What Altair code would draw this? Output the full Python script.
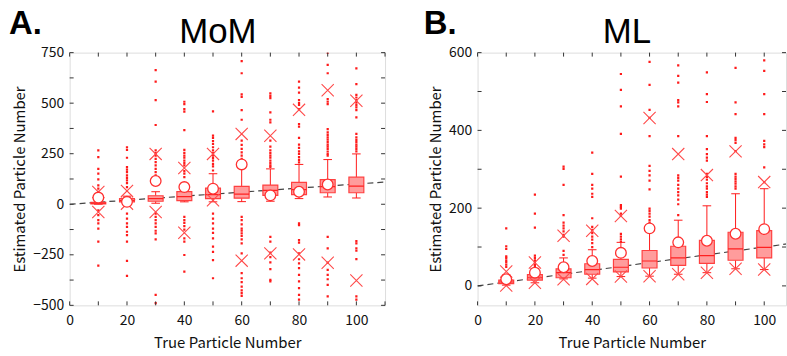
import altair as alt
import pandas as pd

# ---------------- data ----------------
true_n = [10, 20, 30, 40, 50, 60, 70, 80, 90, 100]

# Panel A (MoM)
A_q1 = [2, 12, 15, 18, 28, 30, 44, 48, 57, 57]
A_med = [6, 18, 28, 38, 48, 50, 69, 72, 87, 90]
A_q3 = [10, 28, 42, 62, 80, 88, 95, 108, 122, 134]
A_wlo = [0, 5, 5, 12, 12, 13, 15, 28, 36, 31]
A_whi = [20, 40, 62, 80, 151, 184, 175, 197, 221, 249]
A_mean = [33, 12, 115, 85, 77, 197, 44, 62, 98, None]
A_xhi = [61, 66, 249, 179, 249, 348, 339, 467, 564, 512]
A_xlo = [-38, 3, -38, -141, 20, -279, -243, -248, -289, -377]
A_out = [
    [266, 233, 175, 151, 123, 93, 77, 61, 49, -30, -54, -79, -95, -120, -185, -303],
    [282, 269, 230, 184, 171, 159, 143, 131, 118, 105, 85, -46, -71, -95, -112, -136, -153, -185, -280, -354],
    [663, 607, 515, 392, 266, 253, 241, 225, 208, 192, 175, 159, 143, 131, 118, -46, -62, -79, -95, -112, -131, -144, -174, -448, -489],
    [507, 495, 471, 458, 367, 269, 254, 241, 230, 216, 203, 192, 164, 151, 134, -62, -79, -92, -108, -125, -169, -185, -251, -333],
    [459, 339, 328, 312, 298, 282, 266, 253, 241, 228, 216, 200, 187, 167, -46, -71, -95, -120, -141, -169, -210, -235, -276, -366],
    [708, 648, 544, 531, 466, 418, 315, 294, 274, 257, 241, 225, 213, 200, -62, -79, -100, -120, -131, -144, -157, -174, -194, -243, -341, -366, -385, -407, -426, -440, -453],
    [549, 536, 525, 454, 418, 405, 315, 285, 266, 253, 241, 230, 216, 203, 192, 185, -161, -185, -239, -262, -287, -321, -374, -382],
    [607, 577, 552, 515, 500, 492, 471, 397, 384, 328, 295, 279, 262, 249, 233, 220, 207, -95, -103, -177, -190, -243, -272, -292, -316, -349, -382, -415, -448, -472],
    [750, 689, 648, 520, 507, 495, 372, 356, 343, 331, 320, 307, 295, 285, 274, 261, 249, 241, -161, -218, -289, -325, -349, -371, -399, -456],
    [672, 594, 541, 528, 515, 503, 490, 479, 466, 430, 348, 331, 318, 307, 295, 285, 274, 262, -182, -194, -218, -230, -271, -456, -472],
]

# Panel B (ML)
B_q1 = [6, 15, 21, 30, 36, 46, 53, 58, 66, 72]
B_med = [10, 21, 34, 42, 48, 64, 72, 78, 95, 99]
B_q3 = [15, 29, 44, 57, 68, 91, 102, 117, 138, 142]
B_wlo = [2, 8, 18, 20, 24, 25, 30, 34, 44, 42]
B_whi = [28, 45, 72, 93, 112, 150, 169, 206, 237, 250]
B_mean = [17, 34, 48, 64, 85, 148, 112, 116, 134, 146]
B_xhi = [37, 60, 129, 142, 180, 432, 339, 285, 346, 267]
B_xlo = [1, 8, 17, 18, 24, 25, 30, 34, 44, 42]
B_out = [
    [148, 102, 95, 76, 72, 66, 61, 55, 49],
    [235, 186, 150, 78, 72, 66, 61, 55, 51],
    [307, 301, 260, 182, 163, 155, 148, 140, 131, 127, 90, 80],
    [343, 288, 260, 250, 237, 229, 174, 152, 144, 136, 127, 119, 110, 100],
    [545, 504, 462, 391, 281, 208, 203, 199, 186, 180, 134, 127, 120, 114],
    [576, 517, 453, 432, 385, 309, 296, 284, 271, 248, 199, 193, 186, 178, 169, 163],
    [567, 540, 523, 478, 472, 462, 385, 284, 278, 271, 260, 250, 241, 233, 222, 210, 182],
    [549, 493, 473, 385, 352, 339, 330, 322, 288, 280, 273, 264, 256, 250, 241, 235, 229],
    [561, 472, 442, 381, 375, 368, 347, 288, 281, 275, 269, 263, 256, 250],
    [580, 553, 493, 442, 373, 364, 357, 305, 267],
]

panel_labels = ["A.", "B."]
panel_titles = ["MoM", "ML"]

FONT = "Noto Sans CJK JP"
TITLE_FONT = "Liberation Sans"
RED = "#ff1a1a"
XPATH = "M-1,-1L1,1M-1,1L1,-1"


def panel(q1, med, q3, wlo, whi, mean, xhi, xlo, outs, xdom, ydom, ylabels, yticks,
          xticks, width, height, label, title, label_dx, title_dx):
    stats = pd.DataFrame({
        "x": true_n, "q1": q1, "med": med, "q3": q3, "wlo": wlo, "whi": whi,
        "mean": mean, "xhi": xhi, "xlo": xlo,
    })
    stats["bl"] = stats["x"] - 2.6
    stats["br"] = stats["x"] + 2.6
    stats["cl"] = stats["x"] - 1.5
    stats["cr"] = stats["x"] + 1.5
    outl = pd.DataFrame([{"x": t, "y": v} for t, vs in zip(true_n, outs) for v in vs])
    means = stats.dropna(subset=["mean"])
    xmarks = pd.DataFrame({"x": true_n * 2, "y": list(xhi) + list(xlo)})
    ident = pd.DataFrame({"x": [0, xdom[1] + 5], "y": [0, xdom[1] + 5]})

    xs = alt.Scale(domain=xdom, nice=False, zero=False)
    ys = alt.Scale(domain=ydom, nice=False, zero=False)
    xaxis = alt.Axis(values=[0, 20, 40, 60, 80, 100], tickSize=0, domain=False, grid=False,
                     title="True Particle Number", labelFont=FONT, titleFont=FONT,
                     labelFontSize=14, titleFontSize=15, labelPadding=8, titlePadding=8,
                     labelColor="#111", titleColor="#111", titleFontWeight="normal",
                     labelFlush=False)
    yaxis = alt.Axis(values=ylabels, tickSize=0, domain=False, grid=False,
                     title="Estimated Particle Number", labelFont=FONT, titleFont=FONT,
                     labelFontSize=14, titleFontSize=15, labelPadding=6, titlePadding=5,
                     labelColor="#111", titleColor="#111", titleFontWeight="normal",
                     labelFlush=False)

    def X(f):
        return alt.X(f"{f}:Q", scale=xs, axis=xaxis)

    def Y(f):
        return alt.Y(f"{f}:Q", scale=ys, axis=yaxis)

    line = alt.Chart(ident).mark_line(strokeDash=[6, 4], color="#444", strokeWidth=1.2, clip=True).encode(
        x=X("x"), y=Y("y"))
    dots = alt.Chart(outl).mark_square(size=5, color=RED, opacity=1, clip=True).encode(
        x=X("x"), y=Y("y"))
    wh_up = alt.Chart(stats).mark_rule(color=RED, strokeWidth=1, clip=True).encode(
        x=X("x"), y=Y("q3"), y2="whi:Q")
    wh_lo = alt.Chart(stats).mark_rule(color=RED, strokeWidth=1, clip=True).encode(
        x=X("x"), y=Y("wlo"), y2="q1:Q")
    cap_up = alt.Chart(stats).mark_rule(color=RED, strokeWidth=1, clip=True).encode(
        x=X("cl"), x2="cr:Q", y=Y("whi"))
    cap_lo = alt.Chart(stats).mark_rule(color=RED, strokeWidth=1, clip=True).encode(
        x=X("cl"), x2="cr:Q", y=Y("wlo"))
    box = alt.Chart(stats).mark_rect(fill="#ff9c9c", stroke="#ff4040", strokeWidth=1.2, clip=True).encode(
        x=X("bl"), x2="br:Q", y=Y("q1"), y2="q3:Q")
    medl = alt.Chart(stats).mark_rule(color="#ff2020", strokeWidth=1.2, clip=True).encode(
        x=X("bl"), x2="br:Q", y=Y("med"))
    crosses = alt.Chart(xmarks).mark_point(shape=XPATH, size=150, filled=False, color="#ff4a4a",
                                           strokeWidth=1.1, opacity=1, clip=True).encode(
        x=X("x"), y=Y("y"))
    circ = alt.Chart(means).mark_circle(size=115, fill="white", stroke="#ff3030", strokeWidth=1.3,
                                        opacity=1, fillOpacity=1, clip=True).encode(
        x=X("x"), y=Y("mean"))

    # inward ticks (MATLAB style box)
    ytd = pd.DataFrame({"v": yticks})
    xtd = pd.DataFrame({"v": xticks})
    tk = dict(color="#333", strokeWidth=1)
    t_l = alt.Chart(ytd).mark_rule(**tk).encode(x=alt.value(0), x2=alt.value(4), y=Y("v"))
    t_r = alt.Chart(ytd).mark_rule(**tk).encode(x=alt.value(width - 4), x2=alt.value(width), y=Y("v"))
    t_b = alt.Chart(xtd).mark_rule(**tk).encode(y=alt.value(height - 4), y2=alt.value(height), x=X("v"))
    t_t = alt.Chart(xtd).mark_rule(**tk).encode(y=alt.value(0), y2=alt.value(4), x=X("v"))

    lab = alt.Chart(pd.DataFrame({"t": [label]})).mark_text(
        font=TITLE_FONT, fontSize=33, fontWeight="bold", align="left", baseline="alphabetic",
        color="black").encode(text="t:N", x=alt.value(label_dx), y=alt.value(-19))
    ttl = alt.Chart(pd.DataFrame({"t": [title]})).mark_text(
        font=TITLE_FONT, fontSize=35, align="center", baseline="alphabetic",
        color="black").encode(text="t:N", x=alt.value(title_dx), y=alt.value(-10))

    return alt.layer(line, dots, wh_up, wh_lo, cap_up, cap_lo, box, medl, crosses, circ,
                     t_l, t_r, t_b, t_t, lab, ttl).properties(width=width, height=height)


pa = panel(A_q1, A_med, A_q3, A_wlo, A_whi, A_mean, A_xhi, A_xlo, A_out,
           [0, 110], [-500, 750], [-500, -250, 0, 250, 500, 750],
           [-500, -375, -250, -125, 0, 125, 250, 375, 500, 625, 750],
           list(range(0, 111, 10)), 317, 254, panel_labels[0], panel_titles[0], -61, 149)
pb = panel(B_q1, B_med, B_q3, B_wlo, B_whi, B_mean, B_xhi, B_xlo, B_out,
           [0, 107.6], [-50, 600], [0, 200, 400, 600],
           [0, 100, 200, 300, 400, 500, 600],
           list(range(0, 101, 10)), 310, 254, panel_labels[1], panel_titles[1], -54, 150)

chart = alt.hconcat(pa, pb, spacing=37).properties(
    padding={"left": 8, "top": 6, "right": 0, "bottom": 0}
).configure_view(stroke="#333", strokeWidth=1.2).configure(background="white")

chart.save("out.html", embed_options={"renderer": "svg", "actions": False})
